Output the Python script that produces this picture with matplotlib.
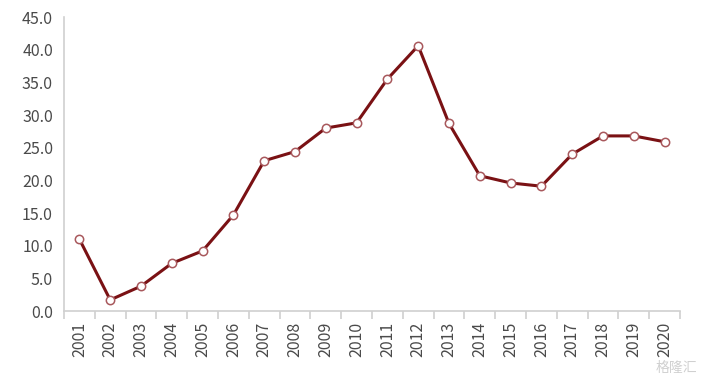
import numpy as np
import matplotlib.pyplot as plt

plt.rcParams['font.family'] = ['Noto Sans CJK SC', 'DejaVu Sans']

years = [str(y) for y in range(2001, 2021)]
values = [11.0, 1.7, 3.8, 7.3, 9.2, 14.7, 23.0, 24.4, 28.0, 28.8,
          35.5, 40.6, 28.7, 20.7, 19.6, 19.1, 24.0, 26.8, 26.8, 25.9]
yticks = np.arange(0, 45.1, 5)

fig = plt.figure(figsize=(7.01, 3.76), dpi=100)
ax = fig.add_axes([64 / 701, 1 - 311 / 376, 616 / 701, 294 / 376])

x = np.arange(len(years))
ax.plot(x, values, color='#7a1114', lw=2.2, zorder=2)
ax.plot(x, values, ls='none', marker='o', ms=6, mfc='white',
        mec='#a8585c', mew=1.1, zorder=3)

ax.set_xlim(-0.5, len(years) - 0.5)
ax.set_ylim(0, 45)
ax.set_yticks(yticks)
ax.set_yticklabels([f'{v:.1f}' for v in yticks])
ax.set_xticks(x)
ax.set_xticklabels(years, rotation=90)
ax.set_xticks(np.arange(-0.5, len(years)), minor=True)

for s in ['top', 'right']:
    ax.spines[s].set_visible(False)
for s in ['left', 'bottom']:
    ax.spines[s].set_color('#d0d0d0')
    ax.spines[s].set_linewidth(1.2)

ax.tick_params(axis='y', length=0, pad=8, labelsize=11.5, labelcolor='#4a4a4a')
ax.tick_params(axis='x', which='major', length=0, pad=8, labelsize=11.5,
               labelcolor='#4a4a4a')
ax.tick_params(axis='x', which='minor', length=6, color='#d0d0d0', width=1.2)

# watermark, kept clear of the 2020 label
fig.text(0.995, 0.003, '格隆汇', ha='right', va='bottom', fontsize=10,
         color='#d0d0d0')

fig.savefig('out.png', dpi=100)
